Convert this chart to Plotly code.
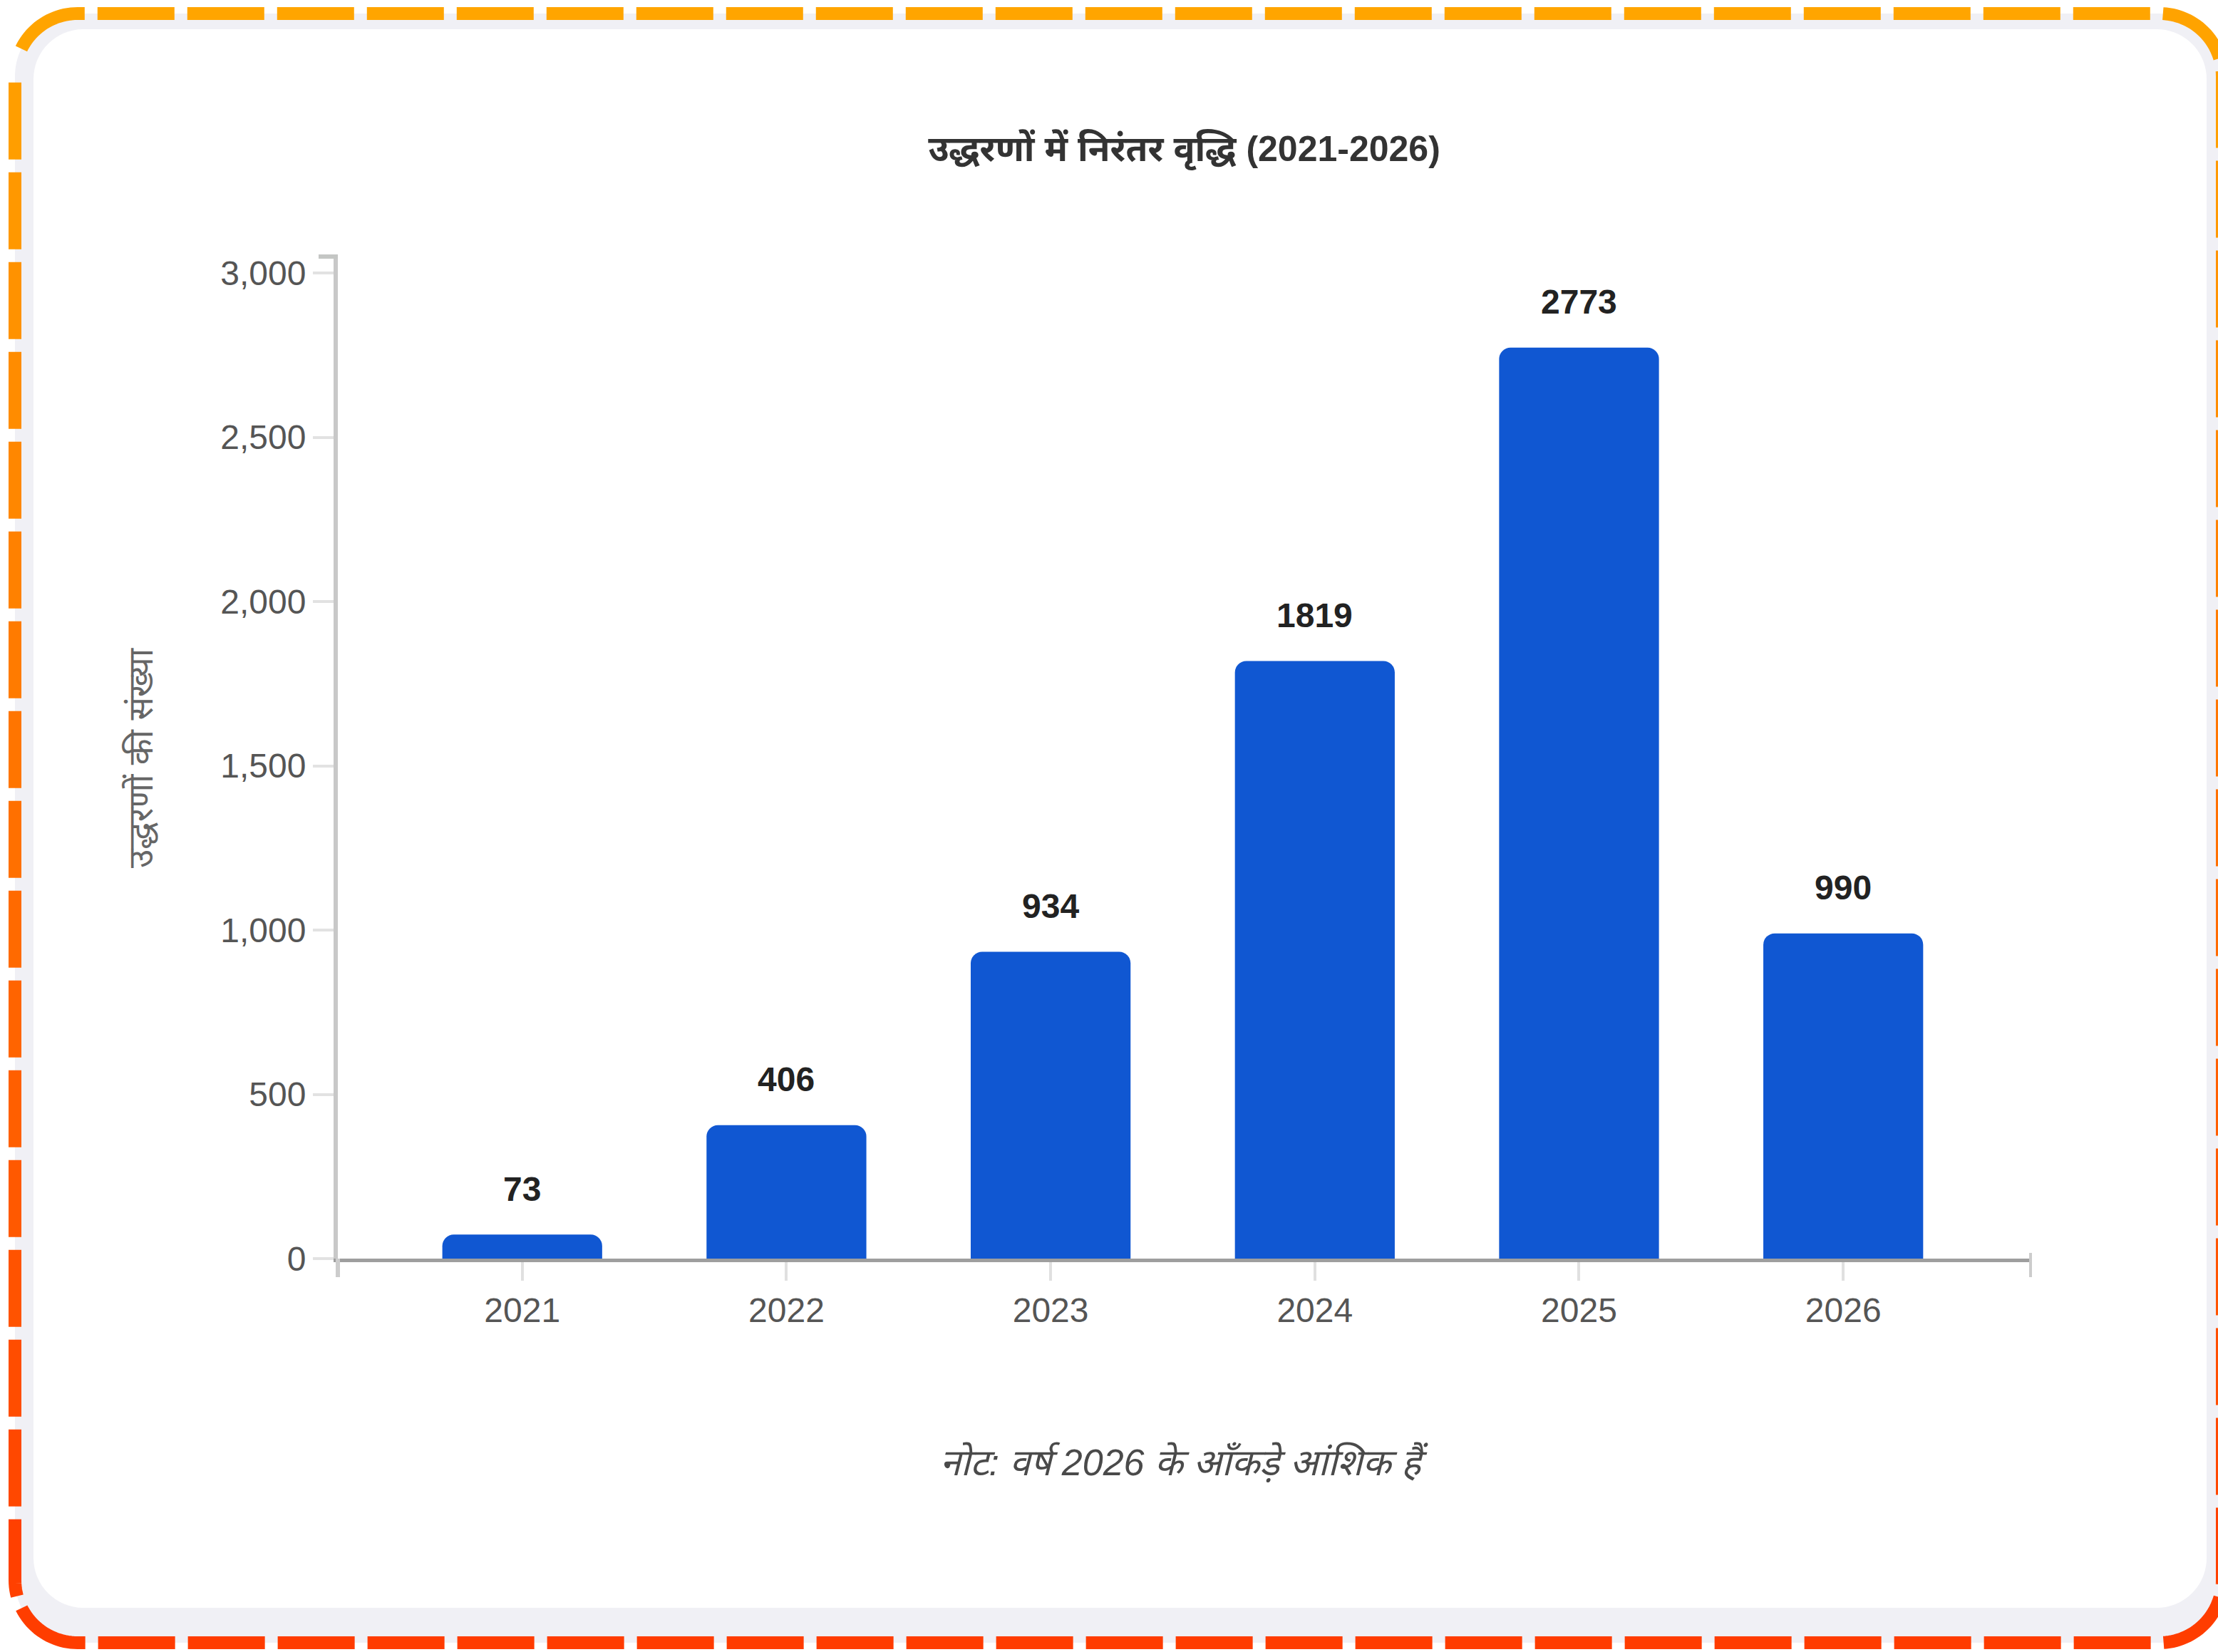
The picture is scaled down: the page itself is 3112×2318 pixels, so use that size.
import math
import plotly.graph_objects as go

# Citation counts per year (2026 is a partial year)
years = ["2021", "2022", "2023", "2024", "2025", "2026"]
citations = [73, 406, 934, 1819, 2773, 990]
y_ticks = [0, 500, 1000, 1500, 2000, 2500, 3000]

title_text = "उद्धरणों में निरंतर वृद्धि (2021-2026)"
y_title = "उद्धरणों की संख्या"
note_text = "नोट: वर्ष 2026 के आँकड़े आंशिक हैं"

FONT = "Liberation Sans, Arial, Noto Sans Devanagari, Noto Sans, sans-serif"

W_PX, H_PX = 3112, 2318
PL, PR, PT, PB = 474, 2849, 360, 1766  # plot area edges in pixels
PW, PH = PR - PL, PB - PT


def px(x):
    return (x - PL) / PW


def py(y):
    return (PB - y) / PH


def rounded_rect_path(x0, y0, x1, y1, r):
    k = 0.5523 * r
    pts = [
        f"M {px(x0 + r)},{py(y0)}",
        f"L {px(x1 - r)},{py(y0)}",
        f"C {px(x1 - r + k)},{py(y0)} {px(x1)},{py(y0 + r - k)} {px(x1)},{py(y0 + r)}",
        f"L {px(x1)},{py(y1 - r)}",
        f"C {px(x1)},{py(y1 - r + k)} {px(x1 - r + k)},{py(y1)} {px(x1 - r)},{py(y1)}",
        f"L {px(x0 + r)},{py(y1)}",
        f"C {px(x0 + r - k)},{py(y1)} {px(x0)},{py(y1 - r + k)} {px(x0)},{py(y1 - r)}",
        f"L {px(x0)},{py(y0 + r)}",
        f"C {px(x0)},{py(y0 + r - k)} {px(x0 + r - k)},{py(y0)} {px(x0 + r)},{py(y0)}",
        "Z",
    ]
    return " ".join(pts)


def perimeter_points(x0, y0, x1, y1, r, step_deg=3):
    """Dense polyline around a rounded rectangle, clockwise from top-left."""
    pts = []

    def arc(cx, cy, a0, a1):
        n = int(abs(a1 - a0) / step_deg)
        for i in range(n + 1):
            a = math.radians(a0 + (a1 - a0) * i / n)
            pts.append((cx + r * math.cos(a), cy + r * math.sin(a)))

    arc(x0 + r, y0 + r, 180, 270)
    arc(x1 - r, y0 + r, 270, 360)
    arc(x1 - r, y1 - r, 0, 90)
    arc(x0 + r, y1 - r, 90, 180)
    pts.append(pts[0])
    return pts


def dashes(pts, dash, gap, offset=0.0):
    cum = [0.0]
    for a, b in zip(pts[:-1], pts[1:]):
        cum.append(cum[-1] + math.dist(a, b))
    total = cum[-1]

    def point_at(s):
        for i in range(1, len(cum)):
            if cum[i] >= s:
                a, b = pts[i - 1], pts[i]
                seg = cum[i] - cum[i - 1]
                t = 0 if seg == 0 else (s - cum[i - 1]) / seg
                return (a[0] + (b[0] - a[0]) * t, a[1] + (b[1] - a[1]) * t)
        return pts[-1]

    out = []
    s = offset
    while s < total:
        e = min(s + dash, total)
        seg = [point_at(s)]
        for i in range(len(cum)):
            if s < cum[i] < e:
                seg.append(pts[i])
        seg.append(point_at(e))
        out.append(seg)
        s += dash + gap
    return out


def border_color(y):
    t = min(max((y - 9) / (2313 - 9), 0), 1)
    g = round(165 + (60 - 165) * t)
    return f"rgb(255,{g},0)"


shapes = []
# light band inside the dashed frame
shapes.append(dict(type="path", xref="paper", yref="paper", layer="below",
                   path=rounded_rect_path(21, 19, 3118, 2305, 88),
                   fillcolor="#f0f0f5", line=dict(width=0)))
# white card
shapes.append(dict(type="path", xref="paper", yref="paper", layer="below",
                   path=rounded_rect_path(47, 41, 3096, 2256, 70),
                   fillcolor="#ffffff", line=dict(width=0)))
# dashed gradient frame
for seg in dashes(perimeter_points(21, 19, 3118, 2305, 88), 108, 18, offset=40):
    ymid = sum(p[1] for p in seg) / len(seg)
    path = "M " + " L ".join(f"{px(x)},{py(y)}" for x, y in seg)
    shapes.append(dict(type="path", xref="paper", yref="paper", layer="above",
                       path=path, line=dict(color=border_color(ymid), width=18)))

# axis end caps
shapes.append(dict(type="line", xref="paper", yref="paper", layer="above",
                   x0=0, x1=0, y0=py(1766), y1=py(1792),
                   line=dict(color="#cccccc", width=6)))
shapes.append(dict(type="line", xref="paper", yref="paper", layer="above",
                   x0=1, x1=1, y0=py(1758), y1=py(1792),
                   line=dict(color="#cccccc", width=4)))
shapes.append(dict(type="line", xref="paper", yref="paper", layer="above",
                   x0=px(447), x1=0, y0=1, y1=1,
                   line=dict(color="#c4c6c4", width=6)))

fig = go.Figure()
fig.add_trace(go.Bar(
    x=years, y=citations, width=0.605,
    marker=dict(color="#1057d2", cornerradius=16, line=dict(width=0)),
    hoverinfo="skip",
))

annotations = []
# value labels above each bar (category index used as the x position)
for i, v in enumerate(citations):
    annotations.append(dict(x=i, y=v, xref="x", yref="y", text=f"<b>{v}</b>",
                            showarrow=False, yanchor="middle", yshift=64,
                            font=dict(family=FONT, size=48, color="#222222")))
annotations.append(dict(x=px(197), y=0.5, xref="paper", yref="paper",
                        text=y_title, textangle=-90, showarrow=False,
                        xanchor="center", yanchor="middle",
                        font=dict(family=FONT, size=48, color="#666666")))
annotations.append(dict(x=0.5, y=py(2052), xref="paper", yref="paper",
                        text=f"<i>{note_text}</i>", showarrow=False,
                        xanchor="center", yanchor="middle",
                        font=dict(family=FONT, size=52, color="#4a4a4a")))

fig.update_layout(
    width=W_PX, height=H_PX,
    margin=dict(l=PL, r=W_PX - PR, t=PT, b=H_PX - PB),
    paper_bgcolor="#ffffff", plot_bgcolor="rgba(0,0,0,0)",
    showlegend=False,
    title=dict(text=f"<b>{title_text}</b>", x=0.5, xref="paper", xanchor="center",
               y=1 - 208 / H_PX, yref="container", yanchor="middle",
               font=dict(family=FONT, size=50, color="#333333")),
    shapes=shapes,
    annotations=annotations,
    bargap=0.4,
)
fig.update_xaxes(
    type="category", range=[-0.698, 5.709],
    showline=True, linecolor="#9e9e9e", linewidth=5,
    ticks="outside", ticklen=26, tickwidth=4, tickcolor="#e0e0e0",
    showgrid=False, zeroline=False,
    tickfont=dict(family=FONT, size=48, color="#555555"),
)
fig.update_yaxes(
    range=[0, 3050], tickvals=y_ticks, tickformat=",",
    showline=True, linecolor="#c8c8c8", linewidth=6,
    ticks="outside", ticklen=29, tickwidth=4, tickcolor="#e2e2e2",
    showgrid=False, zeroline=False,
    tickfont=dict(family=FONT, size=48, color="#555555"),
)

fig.write_html("out.html")
